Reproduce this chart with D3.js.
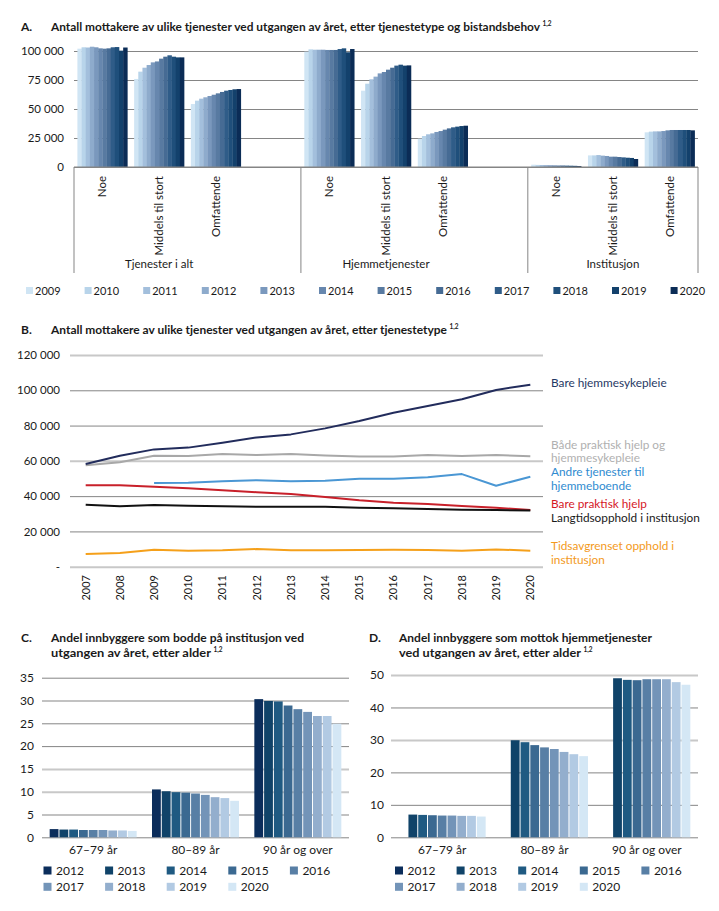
<!DOCTYPE html>
<html><head><meta charset="utf-8">
<script src="https://cdn.jsdelivr.net/npm/d3@7"></script>
<style>
body{margin:0;background:#fff;}
svg{display:block;}
</style></head><body>
<svg id="c" width="719" height="911"></svg>
<script>
// ================= DATA =================
// Panel A
const aYears = [2009,2010,2011,2012,2013,2014,2015,2016,2017,2018,2019,2020];
const aGroups = ["Tjenester i alt","Hjemmetjenester","Institusjon"];
const aNeeds = ["Noe","Middels til stort","Omfattende"];
const aTotalNoe        = [102000,103200,103000,103700,103200,102300,102000,102300,103200,103400,100300,103000];
const aTotalMiddels    = [75900,82200,85600,87900,90200,91000,93400,95100,96300,95100,94500,94500];
const aTotalOmfattende = [54300,57200,58900,60100,61200,62300,63500,64700,65800,66400,67000,67200];
const aHjemNoe         = [99400,101400,101100,101100,101100,100900,100900,100900,101700,102300,98900,101700];
const aHjemMiddels     = [65800,71800,75600,77900,80700,81900,83900,85600,87400,88200,87400,87600];
const aHjemOmfattende  = [24400,26700,28200,29000,30200,31000,32200,33300,34200,34800,35300,35600];
const aInstNoe         = [2000,1800,1700,1600,1500,1400,1300,1300,1200,1100,1000,800];
const aInstMiddels     = [10000,10000,10300,9800,9500,8900,8900,8600,8300,8000,7800,6900];
const aInstOmfattende  = [29900,30500,30700,30700,31000,31600,31900,31900,31900,31900,31900,31600];
const aTicks = [0,25000,50000,75000,100000];

// Panel B
const bYears = [2007,2008,2009,2010,2011,2012,2013,2014,2015,2016,2017,2018,2019,2020];
const bHjemmesykepleie = [58200,62900,66500,67500,70300,73300,75000,78400,82600,87300,91100,94900,100200,103200];
const bBegge           = [57500,59200,62900,62700,63900,63300,63900,63100,62400,62400,63300,62700,63300,62600];
const bAndre           = [null,null,47400,47600,48400,49000,48400,48700,49900,49900,50700,52500,45900,51000];
const bPraktisk        = [46100,46100,45300,44400,43300,42200,41200,39500,37600,36300,35500,34400,33400,32100];
const bLangtid         = [35100,34200,35000,34600,34200,34000,34000,34000,33400,33100,32700,32300,32100,31900];
const bTidsavgrenset   = [7200,7800,9600,9100,9300,10000,9300,9300,9400,9600,9400,9100,9800,9100];
const bLabels = [
  ["Bare hjemmesykepleie"],
  ["Både praktisk hjelp og","hjemmesykepleie"],
  ["Andre tjenester til","hjemmeboende"],
  ["Bare praktisk hjelp"],
  ["Langtidsopphold i institusjon"],
  ["Tidsavgrenset opphold i","institusjon"]
];
const bTicks = [0,20000,40000,60000,80000,100000,120000];

// Panels C and D
const cdYears = [2012,2013,2014,2015,2016,2017,2018,2019,2020];
const ageGroups = ["67–79 år","80–89 år","90 år og over"];
const cYoung = [1.8,1.7,1.7,1.6,1.6,1.6,1.5,1.5,1.4];
const cMid   = [10.5,10.1,9.9,9.8,9.6,9.3,8.8,8.6,8.0];
const cOld   = [30.3,29.9,29.8,28.9,28.1,27.5,26.6,26.6,24.9];
const dYoung = [null,7.0,6.9,6.8,6.7,6.7,6.6,6.6,6.4];
const dMid   = [null,29.9,29.3,28.4,27.7,27.2,26.3,25.6,25.0];
const dOld   = [null,49.0,48.5,48.4,48.7,48.7,48.7,47.8,47.0];
const cTicks = [0,5,10,15,20,25,30,35];
const dTicks = [0,10,20,30,40,50];

// ================= STYLE =================
const FONT = "Lato, 'Open Sans', sans-serif";
const INK = "#1a1a1a";
const GRID = "#858585";
const SOFT = "#c8c8c8";
const aColors = ["#d0e5f4","#b8d4ea","#a3bfdc","#8eabcc","#7a98bd","#6787ae","#587aa1","#466b94","#2f5c88","#1f4f7b","#13416c","#0b2c56"];
const cdColors = ["#0b2d5b","#104369","#1f5a82","#3b6991","#587fa5","#7394b8","#93aecd","#b2cae3","#d4e7f5"];
const bLineColors = ["#222c5c","#a8a8a8","#4a97d4","#c8202a","#111111","#f5a01a"];
const bTextColors = ["#1f3864","#b0b0b0","#2f8bd0","#d5171f","#1a1a1a","#f39a1c"];

const svg = d3.select("#c").attr("font-family", FONT);
const fmtSpace = v => d3.format(",")(v).replace(/,/g, " ");
const TITLE_FS = 12;

// lines: [text, targetWidth] pairs
function drawTitle(letter, letterX, textX, baseline, lines, lineH) {
  svg.append("text").attr("x", letterX).attr("y", baseline).attr("font-weight", 700)
    .attr("font-size", TITLE_FS).attr("fill", INK).text(letter);
  let lastY = baseline, lastW = 0;
  lines.forEach(([str, w], i) => {
    lastY = baseline + i * lineH;
    lastW = w;
    svg.append("text").attr("x", textX).attr("y", lastY)
      .attr("font-weight", 700).attr("font-size", TITLE_FS).attr("fill", INK)
      .attr("textLength", w).attr("lengthAdjust", "spacingAndGlyphs").text(str);
  });
  svg.append("text").attr("x", textX + lastW + 2.5).attr("y", lastY - 5)
    .attr("font-weight", 700).attr("font-size", 6.5).attr("fill", INK).text("1,2");
}

function styleGrid(g, soft) {
  g.select(".domain").remove();
  g.selectAll(".tick line").attr("stroke", d => soft.has(d) ? SOFT : GRID)
    .attr("stroke-width", d => soft.has(d) ? 2 : 1);
  g.selectAll(".tick text").attr("fill", INK).attr("font-family", FONT);
}

// ================= PANEL A =================
drawTitle("A.", 21, 51, 31, [["Antall mottakere av ulike tjenester ved utgangen av året, etter tjenestetype og bistandsbehov", 489]], 15);

const aValues = [
  [aTotalNoe, aTotalMiddels, aTotalOmfattende],
  [aHjemNoe, aHjemMiddels, aHjemOmfattende],
  [aInstNoe, aInstMiddels, aInstOmfattende]
];
const aSlots = [];
aGroups.forEach((g, gi) => {
  aNeeds.forEach(n => aSlots.push(g + "|" + n));
  if (gi < aGroups.length - 1) aSlots.push("blank" + gi);
});
const ax0 = d3.scaleBand().domain(aSlots).range([74, 698]).paddingInner(0.12).paddingOuter(0.06);
const ax1 = d3.scaleBand().domain(aYears).range([0, ax0.bandwidth()]);
const ay = d3.scaleLinear().domain([0, 100000]).range([167, 51]);

const aGrid = svg.append("g").attr("transform", "translate(74,0)")
  .call(d3.axisLeft(ay).tickValues(aTicks).tickSize(-(698 - 74)).tickPadding(10).tickFormat(fmtSpace));
styleGrid(aGrid, new Set());
aGrid.selectAll(".tick text").attr("font-size", 11.5);

aGroups.forEach((g, gi) => {
  aNeeds.forEach((n, ni) => {
    const vals = aValues[gi][ni];
    svg.append("g").selectAll("rect").data(aYears).join("rect")
      .attr("x", (yr) => ax0(g + "|" + n) + ax1(yr))
      .attr("width", ax1.bandwidth() + 0.3)
      .attr("y", (yr, i) => ay(vals[i]))
      .attr("height", (yr, i) => ay(0) - ay(vals[i]))
      .attr("fill", (yr, i) => aColors[i]);
  });
});
svg.append("line").attr("x1", 74).attr("x2", 698).attr("y1", ay(0)).attr("y2", ay(0)).attr("stroke", GRID);
const sepX = [74];
aSlots.forEach((s, i) => { if (s.startsWith("blank")) sepX.push(ax0(aSlots[i + 1]) - ax0.step() * ax0.paddingInner() / 2); });
sepX.push(698);
svg.append("g").selectAll("line").data(sepX).join("line")
  .attr("x1", d => d).attr("x2", d => d).attr("y1", ay(0)).attr("y2", 273)
  .attr("stroke", GRID);
aGroups.forEach((g, gi) => {
  aNeeds.forEach(n => {
    const cx = ax0(g + "|" + n) + ax0.bandwidth() / 2;
    svg.append("text").attr("transform", `translate(${cx},176) rotate(-90)`)
      .attr("text-anchor", "end").attr("dy", "0.35em").attr("font-size", 11.5).attr("fill", INK).text(n);
  });
  const c0 = ax0(g + "|" + aNeeds[0]), c2 = ax0(g + "|" + aNeeds[2]) + ax0.bandwidth();
  svg.append("text").attr("x", (c0 + c2) / 2).attr("y", 268).attr("text-anchor", "middle")
    .attr("font-size", 11.5).attr("fill", INK).text(g);
});
const aLeg = svg.append("g").selectAll("g").data(aYears).join("g")
  .attr("transform", (d, i) => `translate(${26 + i * 58.6},287)`);
aLeg.append("rect").attr("width", 7).attr("height", 7).attr("fill", (d, i) => aColors[i]);
aLeg.append("text").attr("x", 9).attr("y", 7.5).attr("font-size", 11).attr("fill", INK).text(d => d);

// ================= PANEL B =================
drawTitle("B.", 21, 51, 334, [["Antall mottakere av ulike tjenester ved utgangen av året, etter tjenestetype", 396]], 15);
const bx = d3.scalePoint().domain(bYears).range([72, 544]).padding(0.4);
const by = d3.scaleLinear().domain([0, 120000]).range([566.7, 355]);
const bGrid = svg.append("g").attr("transform", "translate(70,0)")
  .call(d3.axisLeft(by).tickValues(bTicks).tickSize(-(543 - 70)).tickPadding(10)
    .tickFormat(v => v === 0 ? "-" : fmtSpace(v)));
styleGrid(bGrid, new Set([0, 60000, 120000]));
bGrid.selectAll(".tick text").attr("font-size", 11.5);

const bSeries = [bHjemmesykepleie, bBegge, bAndre, bPraktisk, bLangtid, bTidsavgrenset];
const bLine = d3.line().defined(d => d != null).x((d, i) => bx(bYears[i])).y(d => by(d));
[1, 2, 3, 4, 5, 0].forEach(k => {
  svg.append("path").datum(bSeries[k]).attr("d", bLine).attr("fill", "none")
    .attr("stroke", bLineColors[k]).attr("stroke-width", 2).attr("stroke-linejoin", "round");
});
svg.append("g").selectAll("text").data(bYears).join("text")
  .attr("transform", d => `translate(${bx(d)},575) rotate(-90)`)
  .attr("text-anchor", "end").attr("dy", "0.35em").attr("font-size", 11).attr("fill", INK).text(d => d);
const bLabelY = [383, 444.5, 472, 504, 518, 546];
bLabels.forEach((lines, k) => {
  lines.forEach((ln, j) => {
    svg.append("text").attr("x", 551).attr("y", bLabelY[k] + j * 13.8).attr("dy", "0.35em")
      .attr("font-size", 11.8).attr("fill", bTextColors[k]).text(ln);
  });
});

// ================= PANELS C & D =================
function barPanel(opts) {
  const { letter, letterX, textX, lines, left, right, yTop, ticks, yMax, soft, series, labelRight } = opts;
  drawTitle(letter, letterX, textX, 642, lines, 15);
  const x0 = d3.scaleBand().domain(ageGroups).range([left, right]).paddingInner(0.15).paddingOuter(0.075);
  const x1 = d3.scaleBand().domain(cdYears).range([0, x0.bandwidth()]).paddingInner(0.1);
  const y = d3.scaleLinear().domain([0, yMax]).range([837.3, yTop]);
  const g = svg.append("g").attr("transform", `translate(${left},0)`)
    .call(d3.axisLeft(y).tickValues(ticks).tickSize(-(right - left)).tickPadding(left - labelRight).tickFormat(d3.format("d")));
  styleGrid(g, soft);
  g.selectAll(".tick text").attr("font-size", 12);
  series.forEach((vals, gi) => {
    svg.append("g").selectAll("rect").data(cdYears.filter((yr, i) => vals[i] != null)).join("rect")
      .attr("x", yr => x0(ageGroups[gi]) + x1(yr))
      .attr("width", x1.bandwidth())
      .attr("y", yr => y(vals[cdYears.indexOf(yr)]))
      .attr("height", yr => y(0) - y(vals[cdYears.indexOf(yr)]))
      .attr("fill", yr => cdColors[cdYears.indexOf(yr)]);
  });
  svg.append("g").selectAll("text").data(ageGroups).join("text")
    .attr("x", d => x0(d) + x0.bandwidth() / 2).attr("y", 854).attr("text-anchor", "middle")
    .attr("font-size", 12).attr("fill", INK).text(d => d);
  const leg = svg.append("g").selectAll("g").data(cdYears).join("g")
    .attr("transform", (d, i) => `translate(${opts.legX + (i % 5) * 61.6},${866.5 + Math.floor(i / 5) * 16.3})`);
  leg.append("rect").attr("width", 8).attr("height", 8).attr("fill", (d, i) => cdColors[i]);
  leg.append("text").attr("x", 12.5).attr("y", 8.3).attr("font-size", 12).attr("fill", INK).text(d => d);
}

barPanel({
  letter: "C.", letterX: 21, textX: 51,
  lines: [["Andel innbyggere som bodde på institusjon ved", 253], ["utgangen av året, etter alder", 160]],
  left: 42, right: 349, yTop: 677.7, ticks: cTicks, yMax: 35, soft: new Set([10, 15]),
  series: [cYoung, cMid, cOld], labelRight: 34, legX: 43.5
});
barPanel({
  letter: "D.", letterX: 369, textX: 399,
  lines: [["Andel innbyggere som mottok hjemmetjenester", 253], ["ved utgangen av året, etter alder", 182]],
  left: 391, right: 698, yTop: 675, ticks: dTicks, yMax: 50, soft: new Set([30, 50]),
  series: [dYoung, dMid, dOld], labelRight: 384, legX: 395
});
</script>
</body></html>
